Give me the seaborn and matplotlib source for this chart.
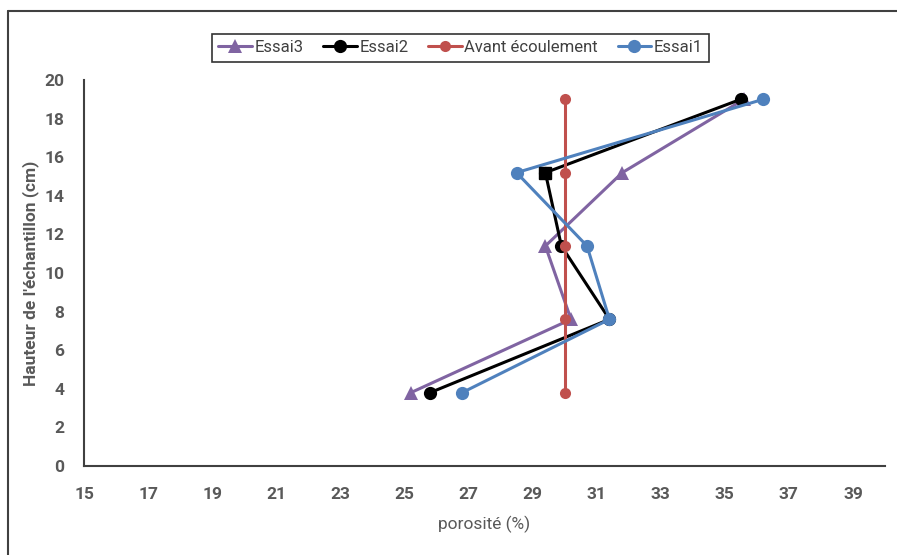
import numpy as np
import pandas as pd
import matplotlib
matplotlib.use("Agg")
import matplotlib.pyplot as plt
import seaborn as sns

# data
hauteur = [19, 15.2, 11.4, 7.6, 3.8]
essai1 = [36.2, 28.5, 30.7, 31.4, 26.8]
essai2 = [35.5, 29.4, 29.9, 31.4, 25.8]
essai3 = [35.6, 31.8, 29.4, 30.2, 25.2]
avant = [30.0, 30.0, 30.0, 30.0, 30.0]

series = ["Essai3", "Essai2", "Avant écoulement", "Essai1"]
colors = {"Essai3": "#8064A2", "Essai2": "#000000",
          "Avant écoulement": "#C0504D", "Essai1": "#4F81BD"}
markers = {"Essai3": "^", "Essai2": "o", "Avant écoulement": "o", "Essai1": "o"}
msize = {"Essai3": 10, "Essai2": 9.5, "Avant écoulement": 8, "Essai1": 9.5}

df = pd.DataFrame({
    "porosite": essai3 + essai2 + avant + essai1,
    "hauteur": hauteur * 4,
    "serie": sum([[s] * len(hauteur) for s in series], []),
})

sns.set_style("white")
plt.rcParams['font.family'] = ['Roboto', 'DejaVu Sans']

fig = plt.figure(figsize=(8.97, 5.55), dpi=100)
ax = fig.add_axes([84 / 897, 89 / 555, (885 - 84) / 897, (466 - 80) / 555])

for s in series:
    d = df[df.serie == s]
    sns.lineplot(data=d, x="porosite", y="hauteur", sort=False, ax=ax,
                 color=colors[s], marker=markers[s], markersize=msize[s],
                 markeredgewidth=0, linewidth=2.2, label=s, estimator=None)

# Essai2 point at 15.2 uses a square marker in the original
d2 = df[(df.serie == "Essai2")].iloc[[1]]
ax.plot(d2.porosite, d2.hauteur, "s", color="black", markersize=8, zorder=5)

ax.set_xlim(15, 40)
ax.set_ylim(0, 20)
ax.set_xticks(np.arange(15, 40, 2))
ax.set_yticks(np.arange(0, 21, 2))
for sp in ["top", "right"]:
    ax.spines[sp].set_visible(False)
for sp in ["left", "bottom"]:
    ax.spines[sp].set_color("#404040")
    ax.spines[sp].set_linewidth(1.5)
ax.tick_params(axis="both", length=0, labelsize=12.5, colors="#595959")
ax.tick_params(axis="x", pad=15)
ax.tick_params(axis="y", pad=14)
for lab in ax.get_xticklabels() + ax.get_yticklabels():
    lab.set_fontweight("bold")

ax.set_xlabel("porosité (%)", fontsize=12.5, color="#595959", labelpad=10)
ax.set_ylabel("Hauteur de l'échantillon (cm)", fontsize=12.5, color="#595959",
              fontweight="bold", labelpad=4)

leg = ax.legend(loc="upper center", bbox_to_anchor=(0.47, 1.142), ncol=4,
                frameon=True, fontsize=12, handlelength=2.0, handletextpad=0.15,
                columnspacing=1.2, borderpad=0.4, fancybox=False)
leg.get_frame().set_edgecolor("black")
leg.get_frame().set_linewidth(1.2)
for t in leg.get_texts():
    t.set_color("#404040")

# outer chart frame (left and top edges)
fig.add_artist(plt.Line2D([8 / 897, 8 / 897], [0, 1 - 11 / 555], color="#404040", lw=1.5))
fig.add_artist(plt.Line2D([8 / 897, 1], [1 - 11 / 555, 1 - 11 / 555], color="#404040", lw=1.5))

fig.savefig("out.png", dpi=100)
